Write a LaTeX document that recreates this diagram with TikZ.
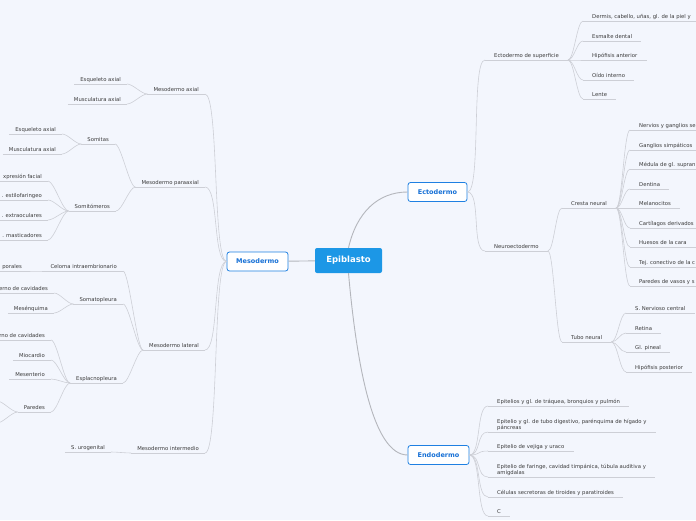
\documentclass[tikz,border=0pt]{standalone}
\usepackage{fontspec}
\setmainfont{DejaVu Sans}
\usetikzlibrary{positioning}
\definecolor{bgcol}{HTML}{F3F6FD}
\definecolor{epiblue}{HTML}{1C97E6}
\definecolor{boxblue}{HTML}{1F80E2}
\definecolor{boxtext}{HTML}{1670D6}
\definecolor{linegray}{HTML}{CDCFD6}
\definecolor{branchgray}{HTML}{B4B6BC}
\definecolor{txtgray}{HTML}{3A3A3A}
\tikzset{
    root/.style={fill=epiblue, rounded corners=2pt, text=white, font=\fontsize{8.5}{10}\selectfont\bfseries, minimum width=67pt, minimum height=25pt, inner sep=0pt},
    main/.style={draw=boxblue, fill=white, line width=0.8pt, rounded corners=2.5pt, text=boxtext, font=\fontsize{6.5}{8}\selectfont\bfseries, minimum height=19pt, inner sep=0pt},
    sub/.style={text=txtgray, font=\fontsize{5.3}{6.6}\selectfont, inner ysep=1pt, text height=4pt, text depth=1.5pt},
    ltopic/.style={sub, anchor=south east, inner xsep=6pt},
    rtopic/.style={sub, anchor=south west, inner xsep=9pt},
    twoline/.style={align=left, text height=, text depth=},
    uline/.style={draw=linegray, line width=0.9pt},
    conn/.style={draw=linegray, line width=0.6pt},
    branch/.style={draw=branchgray, line width=0.9pt},
    rb/.style={out=0, in=180, distance=#1}, rb/.default=6pt,
    lb/.style={out=180, in=0, distance=#1}, lb/.default=6pt
}
\begin{document}
\begin{tikzpicture}[x=1pt, y=-1pt]
\fill[bgcol] (0,0) rectangle (696,520);
\useasboundingbox (0,0) rectangle (696,520);
\clip (0,0) rectangle (696,520);

% main topics
\node[root] (epi) at (348.5,260.5) {Epiblasto};
\node[main, minimum width=61pt] (meso) at (257.5,261.5) {Mesodermo};
\node[main, minimum width=59pt] (ecto) at (437.5,192) {Ectodermo};
\node[main, minimum width=61pt] (endo) at (438.5,455) {Endodermo};

% ectodermo
\node[rtopic] (ecsup) at (485,60) {Ectodermo de superficie};
\node[rtopic] (dermis) at (583,21) {Dermis, cabello, uñas, gl. de la piel y};
\node[rtopic] (esmalte) at (583,41) {Esmalte dental};
\node[rtopic] (hipant) at (583,60) {Hipófisis anterior};
\node[rtopic] (oido) at (583,80) {Oído interno};
\node[rtopic] (lente) at (583,99) {Lente};
\node[rtopic] (neuro) at (485,251) {Neuroectodermo};
\node[rtopic] (cresta) at (562,208) {Cresta neural};
\node[rtopic] (nervios) at (630,130) {Nervios y ganglios se};
\node[rtopic] (gsimp) at (630,150) {Ganglios simpáticos};
\node[rtopic] (medula) at (630,169) {Médula de gl. supran};
\node[rtopic] (dentina) at (630,189) {Dentina};
\node[rtopic] (melano) at (630,208) {Melanocitos};
\node[rtopic] (cartil) at (630,228) {Cartílagos derivados};
\node[rtopic] (huesos) at (630,247) {Huesos de la cara};
\node[rtopic] (tejcon) at (630,267) {Tej. conectivo de la c};
\node[rtopic] (paredv) at (630,286) {Paredes de vasos y s};
\node[rtopic] (tubo) at (562,342) {Tubo neural};
\node[rtopic] (snc) at (626,313) {S. Nervioso central};
\node[rtopic] (retina) at (626,333) {Retina};
\node[rtopic] (pineal) at (626,352) {Gl. pineal};
\node[rtopic] (hippos) at (626,372) {Hipófisis posterior};

% endodermo
\node[rtopic] (traquea) at (488,406) {Epitelios y gl. de tráquea, bronquios y pulmón};
\node[rtopic, twoline] (digest) at (488,432) {Epitelio y gl. de tubo digestivo, parénquima de hígado y\\páncreas};
\node[rtopic] (vejiga) at (488,451) {Epitelio de vejiga y uraco};
\node[rtopic, twoline] (faringe) at (488,477) {Epitelio de faringe, cavidad timpánica, túbula auditiva y\\amígdalas};
\node[rtopic] (tiroides) at (488,497) {Células secretoras de tiroides y paratiroides};
\node[rtopic] (cc) at (488,516) {C};

% mesodermo
\node[ltopic] (maxial) at (205,94) {Mesodermo axial};
\node[ltopic] (esqa) at (127,84) {Esqueleto axial};
\node[ltopic] (musa) at (127,104) {Musculatura axial};
\node[ltopic] (mpara) at (205,187) {Mesodermo paraaxial};
\node[ltopic] (somitas) at (115,144) {Somitas};
\node[ltopic] (esqs) at (62,134) {Esqueleto axial};
\node[ltopic] (muss) at (62,154) {Musculatura axial};
\node[ltopic] (somitom) at (116,211) {Somitómeros};
\node[ltopic] (mfacial) at (48,181) {xpresión facial};
\node[ltopic] (mestilo) at (48,200) {. estilofaringeo};
\node[ltopic] (mextra) at (48,220) {. extraoculares};
\node[ltopic] (mmast) at (48,240) {. masticadores};
\node[ltopic] (mlat) at (205,350) {Mesodermo lateral};
\node[ltopic] (celoma) at (123,271) {Celoma intraembrionario};
\node[ltopic] (cavcorp) at (28,271) {porales};
\node[ltopic] (somato) at (123,304) {Somatopleura};
\node[ltopic] (revext) at (54,293) {erno de cavidades};
\node[ltopic] (mesenq) at (54,313) {Mesénquima};
\node[ltopic] (esplac) at (123,383) {Esplacnopleura};
\node[ltopic] (revint) at (51,340) {rno de cavidades};
\node[ltopic] (miocard) at (51,360) {Miocardio};
\node[ltopic] (mesent) at (51,379) {Mesenterio};
\node[ltopic] (paredes) at (51,412) {Paredes};
\coordinate (par1) at (-3,401);
\coordinate (par2) at (-3,423);
\node[ltopic] (minter) at (205,453) {Mesodermo intermedio};
\node[ltopic] (urogen) at (111,452) {S. urogenital};

% underlines
\foreach \n in {ecsup,dermis,esmalte,hipant,oido,lente,neuro,cresta,nervios,gsimp,medula,dentina,melano,cartil,huesos,tejcon,paredv,tubo,snc,retina,pineal,hippos,traquea,digest,vejiga,faringe,tiroides,cc,maxial,esqa,musa,mpara,somitas,esqs,muss,somitom,mfacial,mestilo,mextra,mmast,mlat,celoma,cavcorp,somato,revext,mesenq,esplac,revint,miocard,mesent,paredes,minter,urogen}
    \draw[uline] (\n.south west) -- (\n.south east);

% connectors
\draw[branch] (meso) -- (epi);
\draw[branch] (epi.north) .. controls +(8,-35) and +(-30,0) .. (ecto.west);
\draw[branch] (epi.south) .. controls +(8,90) and +(-35,0) .. (endo.west);

\foreach \c in {maxial,mpara,mlat,minter}
    \draw[conn] (meso.west) to[lb=14pt] (\c.south east);
\foreach \c in {ecsup,neuro}
    \draw[conn] (ecto.east) to[rb=14pt] (\c.south west);
\foreach \c in {traquea,digest,vejiga,faringe,tiroides,cc}
    \draw[conn] (endo.east) to[rb=12pt] (\c.south west);

\foreach \c in {dermis,esmalte,hipant,oido,lente}
    \draw[conn] (ecsup.south east) to[rb] (\c.south west);
\foreach \c in {cresta,tubo}
    \draw[conn] (neuro.south east) to[rb] (\c.south west);
\foreach \c in {nervios,gsimp,medula,dentina,melano,cartil,huesos,tejcon,paredv}
    \draw[conn] (cresta.south east) to[rb] (\c.south west);
\foreach \c in {snc,retina,pineal,hippos}
    \draw[conn] (tubo.south east) to[rb] (\c.south west);

\foreach \c in {esqa,musa}
    \draw[conn] (maxial.south west) to[lb] (\c.south east);
\foreach \c in {somitas,somitom}
    \draw[conn] (mpara.south west) to[lb] (\c.south east);
\foreach \c in {esqs,muss}
    \draw[conn] (somitas.south west) to[lb] (\c.south east);
\foreach \c in {mfacial,mestilo,mextra,mmast}
    \draw[conn] (somitom.south west) to[lb] (\c.south east);
\foreach \c in {celoma,somato,esplac}
    \draw[conn] (mlat.south west) to[lb] (\c.south east);
\draw[conn] (celoma.south west) to[lb] (cavcorp.south east);
\foreach \c in {revext,mesenq}
    \draw[conn] (somato.south west) to[lb] (\c.south east);
\foreach \c in {revint,miocard,mesent,paredes}
    \draw[conn] (esplac.south west) to[lb] (\c.south east);
\foreach \c in {par1,par2}
    \draw[conn] (paredes.south west) to[lb] (\c);
\draw[conn] (minter.south west) to[lb] (urogen.south east);
\end{tikzpicture}
\end{document}
